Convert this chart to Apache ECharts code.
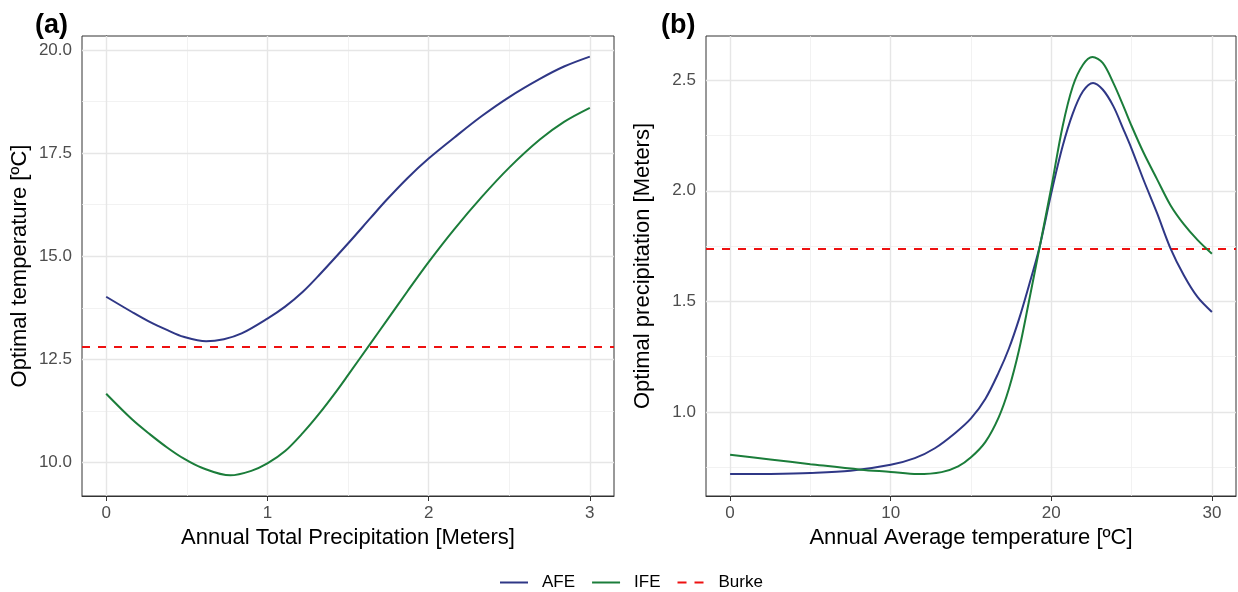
<!DOCTYPE html>
<html>
<head>
<meta charset="utf-8">
<script src="https://cdn.jsdelivr.net/npm/echarts@6/dist/echarts.min.js"></script>
<style>
html,body{margin:0;padding:0;background:#fff;}
#chart{width:1238px;height:592px;}
</style>
</head>
<body>
<div id="chart"></div>
<script>
// ---------- Panel (a): optimal temperature vs annual total precipitation ----------
const afeA_x = [0, 0.16, 0.27, 0.38, 0.48, 0.62, 0.73, 0.84, 1.0, 1.11, 1.22, 1.32, 1.5, 1.64, 1.74, 1.87, 2.0, 2.16, 2.33, 2.5, 2.69, 2.84, 3.0];
const afeA_y = [14.02, 13.65, 13.41, 13.21, 13.05, 12.94, 12.99, 13.13, 13.49, 13.78, 14.14, 14.54, 15.31, 15.93, 16.37, 16.90, 17.37, 17.88, 18.40, 18.86, 19.30, 19.60, 19.84];
const ifeA_x = [0, 0.16, 0.27, 0.38, 0.48, 0.59, 0.77, 0.9, 1.0, 1.11, 1.22, 1.32, 1.43, 1.5, 1.64, 1.74, 1.87, 2.0, 2.16, 2.33, 2.5, 2.69, 2.84, 3.0];
const ifeA_y = [11.67, 11.05, 10.69, 10.36, 10.10, 9.88, 9.69, 9.80, 9.98, 10.28, 10.72, 11.18, 11.74, 12.12, 12.89, 13.44, 14.16, 14.86, 15.66, 16.44, 17.15, 17.83, 18.26, 18.60];
const burkeA = 12.81;
const aXTicks = [0, 1, 2, 3];
const aXMinor = [0.5, 1.5, 2.5];
const aYTicks = [10, 12.5, 15, 17.5, 20];
const aYMinor = [11.25, 13.75, 16.25, 18.75];

// ---------- Panel (b): optimal precipitation vs annual average temperature ----------
const afeB_x = [0, 2.5, 5, 7.5, 10, 11.5, 12.75, 14, 15, 15.9, 16.73, 17.36, 17.99, 18.6, 19.25, 20, 20.7, 21.34, 21.97, 22.6, 23.2, 23.86, 24.49, 25, 25.74, 26.58, 27.42, 28.26, 29.1, 30];
const afeB_y = [0.719, 0.720, 0.724, 0.734, 0.761, 0.791, 0.836, 0.904, 0.971, 1.06, 1.18, 1.287, 1.42, 1.57, 1.74, 1.99, 2.20, 2.35, 2.45, 2.488, 2.458, 2.383, 2.278, 2.19, 2.05, 1.90, 1.74, 1.617, 1.52, 1.452];
const ifeB_x = [0, 2.5, 5, 8.13, 10, 11.66, 13.17, 14.2, 15, 15.9, 16.73, 17.36, 17.99, 18.6, 19.25, 20, 20.7, 21.34, 21.97, 22.56, 23.2, 23.86, 24.49, 25, 25.74, 26.58, 27.42, 28.26, 29.1, 30];
const ifeB_y = [0.806, 0.785, 0.764, 0.739, 0.729, 0.719, 0.728, 0.754, 0.795, 0.865, 0.977, 1.105, 1.28, 1.497, 1.737, 2.015, 2.29, 2.473, 2.57, 2.605, 2.578, 2.488, 2.383, 2.293, 2.173, 2.053, 1.935, 1.848, 1.778, 1.715];
const burkeB = 1.737;
const bXTicks = [0, 10, 20, 30];
const bXMinor = [5, 15, 25];
const bYTicks = [1.0, 1.5, 2.0, 2.5];
const bYMinor = [0.75, 1.25, 1.75, 2.25];

const FONT = 'Liberation Sans, Arial, Helvetica, sans-serif';
const C_AFE = '#2F3786';
const C_IFE = '#1B7D3A';
const C_BURKE = '#EE1111';
const DASH = [8, 8];

function pairs(xs, ys) { return xs.map((x, i) => [x, ys[i]]); }

function xAxisDef(gi, min, max, ticks, name) {
  return {
    gridIndex: gi, type: 'value', min: min, max: max,
    axisLine: { show: true, lineStyle: { color: '#333333', width: 1 } },
    axisTick: { show: true, customValues: ticks, length: 5, lineStyle: { color: '#333333', width: 1 } },
    axisLabel: { customValues: ticks, color: '#4D4D4D', fontSize: 17, fontFamily: FONT, margin: 9,
                 formatter: v => String(v) },
    splitLine: { show: false },
    name: name, nameLocation: 'middle', nameGap: 31,
    nameTextStyle: { fontSize: 22, color: '#000', fontFamily: FONT }
  };
}
function yAxisDef(gi, min, max, ticks, name, gap) {
  return {
    gridIndex: gi, type: 'value', min: min, max: max,
    axisLine: { show: true, lineStyle: { color: '#333333', width: 1 } },
    axisTick: { show: true, customValues: ticks, length: 5, lineStyle: { color: '#333333', width: 1 } },
    axisLabel: { customValues: ticks, color: '#4D4D4D', fontSize: 17, fontFamily: FONT, margin: 10,
                 formatter: v => v.toFixed(1) },
    splitLine: { show: false },
    name: name, nameLocation: 'middle', nameGap: gap,
    nameTextStyle: { fontSize: 22, color: '#000', fontFamily: FONT }
  };
}
function gridSeries(gi, xs, ys, width, color) {
  return {
    type: 'line', xAxisIndex: gi, yAxisIndex: gi, data: [], silent: true, z: 1,
    markLine: {
      symbol: ['none', 'none'], silent: true, animation: false,
      label: { show: false }, emphasis: { disabled: true },
      lineStyle: { color: color, width: width, type: 'solid' },
      data: xs.map(v => ({ xAxis: v })).concat(ys.map(v => ({ yAxis: v })))
    }
  };
}
function curve(name, gi, data, color) {
  return {
    name: name, type: 'line', xAxisIndex: gi, yAxisIndex: gi, data: data,
    showSymbol: false, symbol: 'none', smooth: 0.33, z: 5,
    lineStyle: { color: color, width: 2 }, itemStyle: { color: color },
    emphasis: { disabled: true }
  };
}
function burke(gi, val) {
  return {
    name: 'Burke', type: 'line', xAxisIndex: gi, yAxisIndex: gi, data: [],
    symbol: 'none', z: 6,
    lineStyle: { color: C_BURKE, width: 2, type: DASH }, itemStyle: { color: C_BURKE },
    markLine: {
      symbol: ['none', 'none'], silent: true, animation: false,
      label: { show: false }, emphasis: { disabled: true },
      lineStyle: { color: C_BURKE, width: 2, type: DASH },
      data: [{ yAxis: val }]
    }
  };
}

const chart = echarts.init(document.getElementById('chart'), null, { renderer: 'canvas' });
chart.setOption({
  animation: false,
  backgroundColor: '#ffffff',
  textStyle: { fontFamily: FONT },
  title: [
    { text: '(a)', left: 35, top: 12, padding: 0, textStyle: { fontSize: 27, fontWeight: 'bold', color: '#000', fontFamily: FONT } },
    { text: '(b)', left: 661, top: 12, padding: 0, textStyle: { fontSize: 27, fontWeight: 'bold', color: '#000', fontFamily: FONT } }
  ],
  grid: [
    { left: 82, top: 36, width: 532, height: 460, show: true, borderColor: '#333333', borderWidth: 1, backgroundColor: 'rgba(0,0,0,0)' },
    { left: 706, top: 36, width: 530, height: 460, show: true, borderColor: '#333333', borderWidth: 1, backgroundColor: 'rgba(0,0,0,0)' }
  ],
  xAxis: [
    xAxisDef(0, -0.15, 3.15, aXTicks, 'Annual Total Precipitation [Meters]'),
    xAxisDef(1, -1.5, 31.5, bXTicks, 'Annual Average temperature [ºC]')
  ],
  yAxis: [
    yAxisDef(0, 9.19, 20.34, aYTicks, 'Optimal temperature [ºC]', 51),
    yAxisDef(1, 0.62, 2.70, bYTicks, 'Optimal precipitation [Meters]', 52)
  ],
  legend: {
    data: [
      { name: 'AFE', icon: 'path://M0,0h28v2h-28z' },
      { name: 'IFE', icon: 'path://M0,0h28v2h-28z' },
      { name: 'Burke', icon: 'path://M0,0h9v2h-9z M17,0h9v2h-9z' }
    ],
    left: 500, top: 574, padding: 0, itemWidth: 28, itemHeight: 2, itemGap: 17,
    textStyle: { fontSize: 17, color: '#000', fontFamily: FONT, padding: [0, 0, 0, 9] },
    selectedMode: false
  },
  series: [
    gridSeries(0, aXMinor, aYMinor, 0.8, '#EFEFEF'),
    gridSeries(0, aXTicks, aYTicks, 1.4, '#E6E6E6'),
    gridSeries(1, bXMinor, bYMinor, 0.8, '#EFEFEF'),
    gridSeries(1, bXTicks, bYTicks, 1.4, '#E6E6E6'),
    curve('AFE', 0, pairs(afeA_x, afeA_y), C_AFE),
    curve('IFE', 0, pairs(ifeA_x, ifeA_y), C_IFE),
    burke(0, burkeA),
    curve('AFE', 1, pairs(afeB_x, afeB_y), C_AFE),
    curve('IFE', 1, pairs(ifeB_x, ifeB_y), C_IFE),
    burke(1, burkeB)
  ]
});
</script>
</body>
</html>
